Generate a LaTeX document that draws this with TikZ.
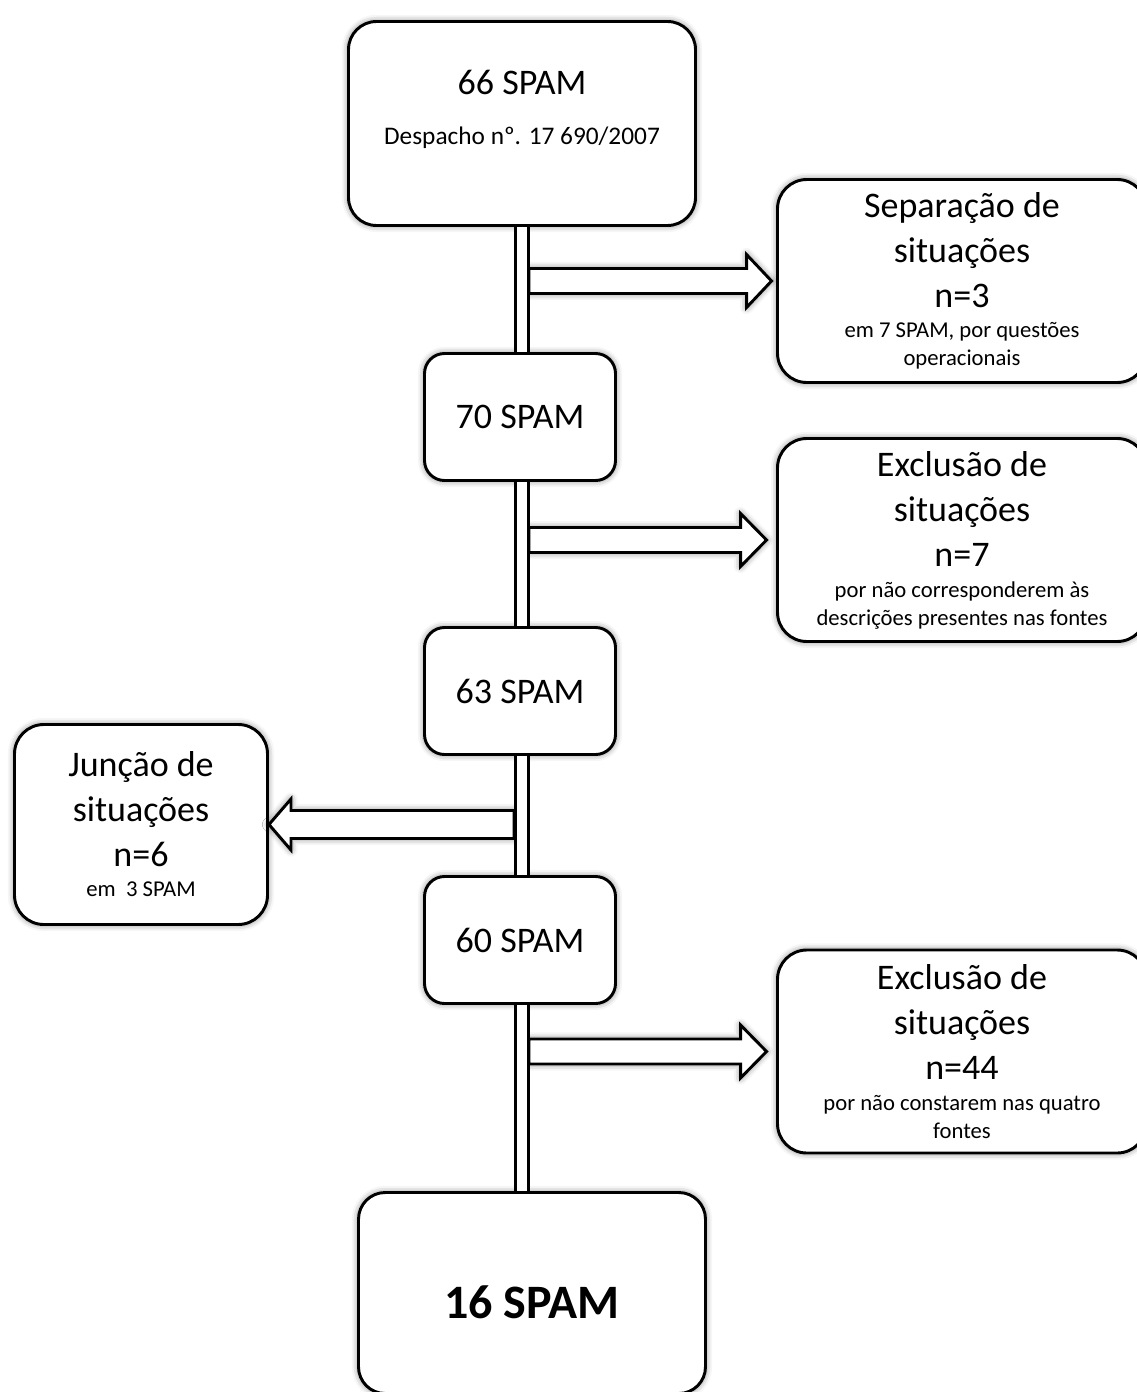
\documentclass[tikz,border=0pt]{standalone}
\usepackage{fontspec}
\setmainfont{Carlito}
\usetikzlibrary{calc,shadows.blur}

\newcommand{\smalltxt}{\fontsize{17}{21}\selectfont}

\tikzset{
  softshadow/.style={blur shadow={shadow xshift=0pt, shadow yshift=0pt, shadow blur radius=5pt, shadow opacity=55}},
  stage/.style={draw, line width=2.2pt, fill=white, rounded corners=21pt, align=center,
    inner sep=0pt, font=\fontsize{27}{33.75}\selectfont, softshadow},
  countbox/.style={stage, rounded corners=15pt, minimum width=143.25pt, minimum height=95.25pt},
  sidebox/.style={stage, rounded corners=22pt, minimum width=276.75pt, minimum height=152.25pt},
  trunk/.style={line width=2.5pt, double distance=7.5pt, double=white},
  fatarrow/.style={draw, line width=2.2pt, fill=white, line join=miter, softshadow}
}

\begin{document}
\begin{tikzpicture}[x=0.75pt,y=0.75pt,yscale=-1,xscale=1]
\useasboundingbox (0,0) rectangle (1137,1392);

% Main stages
\node[stage, minimum width=260.25pt, minimum height=153pt] (b66) at (522,123.5)
  {66 SPAM\\[3.75pt]\fontsize{19}{21}\selectfont Despacho nº. 17 690/2007\\[-10pt]\mbox{}};
\node[countbox] (b70) at (520,417) {70 SPAM};
\node[countbox] (b63) at (520,691) {63 SPAM};
\node[countbox] (b60) at (520,940) {60 SPAM};
\node[stage, rounded corners=20pt, minimum width=260.25pt, minimum height=150.75pt,
  font=\fontsize{36}{40}\selectfont\bfseries, text height=37.5pt, text depth=0pt] (b16) at (532,1293) {16 SPAM};

% Side boxes
\node[sidebox] (sep) at (962,281)
  {Separação de\\situações\\n=3\\[-11.25pt]\smalltxt em 7 SPAM, por questões\\[-12.75pt]\smalltxt operacionais};
\node[sidebox] (exc1) at (962,540)
  {Exclusão de\\situações\\n=7\\[-10.5pt]\smalltxt por não corresponderem às\\[-12.75pt]\smalltxt descrições presentes nas fontes};
\node[sidebox] (exc2) at (962,1051.5)
  {Exclusão de\\situações\\n=44\\[-10.5pt]\smalltxt por não constarem nas quatro\\[-12.75pt]\smalltxt fontes};
\node[stage, rounded corners=22pt, minimum width=189.75pt, minimum height=150pt] (jun) at (141,824.5)
  {Junção de\\situações\\n=6\\[-11.25pt]\smalltxt em\ \ 3 SPAM};

% Arrow to sep
\draw[fatarrow] ($(b66.south |- sep.west)+(7,-12.5)$) -- ($(sep.west)+(-29.5,-12.5)$) -- ++(0,-14)
  -- ($(sep.west)+(-4.5,0)$) -- ($(sep.west)+(-29.5,26.5)$) -- ++(0,-14)
  -- ($(b66.south |- sep.west)+(7,12.5)$) -- cycle;
% Arrow to exc1
\draw[fatarrow] ($(b66.south |- exc1.west)+(7,-12.5)$) -- ($(exc1.west)+(-35.5,-12.5)$) -- ++(0,-14)
  -- ($(exc1.west)+(-9.5,0)$) -- ($(exc1.west)+(-35.5,26.5)$) -- ++(0,-14)
  -- ($(b66.south |- exc1.west)+(7,12.5)$) -- cycle;
% Arrow to jun
\draw[fatarrow] ($(b66.south |- jun.east)+(-8,-14)$) -- ($(jun.east)+(22,-14)$) -- ++(0,-11.5)
  -- (jun.east) -- ($(jun.east)+(22,25.5)$) -- ++(0,-11.5)
  -- ($(b66.south |- jun.east)+(-8,14)$) -- cycle;
% Arrow to exc2
\draw[fatarrow] ($(b66.south |- exc2.west)+(7,-12.5)$) -- ($(exc2.west)+(-35.5,-12.5)$) -- ++(0,-14)
  -- ($(exc2.west)+(-9.5,0)$) -- ($(exc2.west)+(-35.5,26.5)$) -- ++(0,-14)
  -- ($(b66.south |- exc2.west)+(7,12.5)$) -- cycle;

% Trunk
\draw[trunk] (b66.south) -- (b66.south |- b70.north);
\draw[trunk] (b66.south |- b70.south) -- (b66.south |- b63.north);
\draw[trunk] (b66.south |- b63.south) -- (b66.south |- b60.north);
\draw[trunk] (b66.south |- b60.south) -- (b66.south |- b16.north);

\end{tikzpicture}
\end{document}
